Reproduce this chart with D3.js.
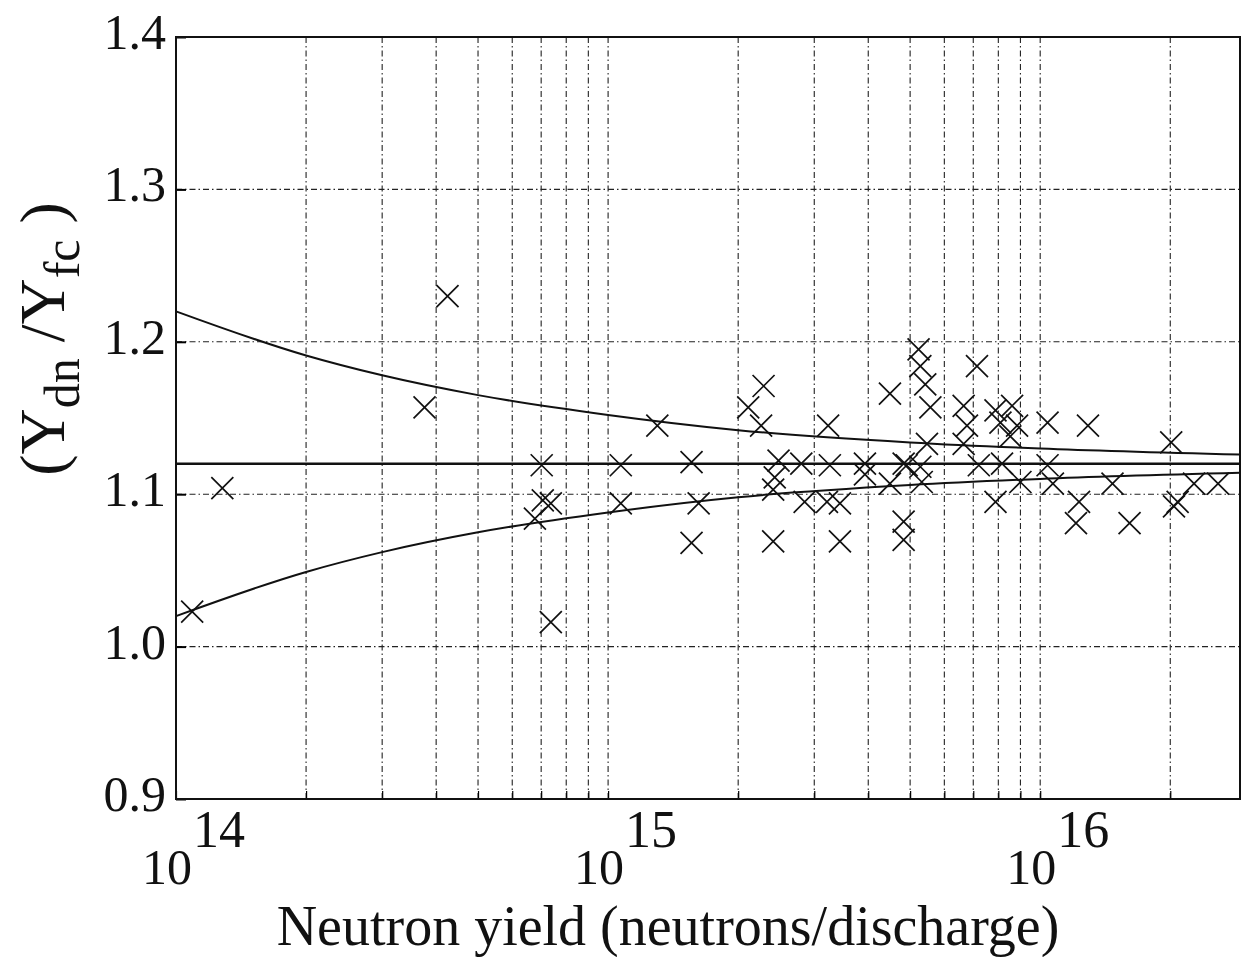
<!DOCTYPE html>
<html>
<head>
<meta charset="utf-8">
<script src="https://cdn.jsdelivr.net/npm/d3@7"></script>
<style>
  body { margin: 0; background: #fff; }
  text { font-family: "Liberation Serif", "DejaVu Serif", serif; fill: #111; }
</style>
</head>
<body>
<div id="chart"></div>
<script>
// measured points: neutron yield and ratio Ydn/Yfc
var yieldValues = [
  1.09e14, 1.28e14, 3.76e14, 4.25e14, 6.77e14, 7.06e14, 7.37e14, 7.02e14, 7.37e14,
  1.07e15, 1.07e15, 1.30e15, 1.56e15, 1.62e15, 1.56e15, 2.11e15, 2.29e15, 2.26e15,
  2.43e15, 2.41e15, 2.41e15, 2.48e15, 2.80e15, 3.26e15, 3.93e15, 2.85e15, 3.21e15,
  3.44e15, 3.23e15, 3.44e15, 3.93e15, 4.49e15, 4.49e15, 4.83e15, 4.83e15, 4.83e15,
  5.23e15, 5.28e15, 5.42e15, 5.57e15, 5.47e15, 5.28e15, 5.32e15, 4.91e15,
  7.14e15, 6.65e15, 6.77e15, 6.65e15, 7.21e15, 7.88e15, 8.61e15, 8.09e15, 8.84e15,
  8.53e15, 8.16e15, 9.00e15, 7.88e15, 1.04e16, 1.29e16, 1.04e16, 1.07e16, 1.47e16,
  1.23e16, 1.21e16, 1.61e16, 2.01e16, 2.08e16, 2.04e16, 2.27e16, 2.58e16
];
var ratioValues = [
  1.023, 1.104, 1.157, 1.230, 1.084, 1.096, 1.094, 1.119, 1.016,
  1.119, 1.094, 1.145, 1.121, 1.094, 1.068, 1.157, 1.171, 1.145,
  1.111, 1.103, 1.069, 1.122, 1.120, 1.119, 1.120, 1.095, 1.095,
  1.094, 1.145, 1.069, 1.113, 1.107, 1.166, 1.120, 1.082, 1.070,
  1.195, 1.184, 1.172, 1.157, 1.133, 1.118, 1.108, 1.119,
  1.184, 1.158, 1.145, 1.133, 1.119, 1.155, 1.158, 1.147, 1.145,
  1.138, 1.120, 1.108, 1.095, 1.147, 1.145, 1.119, 1.107, 1.107,
  1.095, 1.081, 1.081, 1.134, 1.095, 1.092, 1.107, 1.107
];

// mean line and error band
var meanRatio = 1.12;
var bandYield = [1e14, 2e14, 3e14, 5e14, 1e15, 2e15, 5e15, 1e16, 2.9e16];
var upperBand = [1.220, 1.191, 1.178, 1.165, 1.152, 1.142, 1.134, 1.130, 1.126];
var lowerBand = [1.020, 1.049, 1.062, 1.075, 1.088, 1.098, 1.106, 1.110, 1.114];

var yTicks = [0.9, 1.0, 1.1, 1.2, 1.3, 1.4];
var xMajor = [1e14, 1e15, 1e16];

const width = 1244;
const height = 957;
var plotLeft = 176, plotRight = 1240, plotTop = 37, plotBottom = 799;

var svg = d3.select("#chart")
    .append("svg")
    .attr("width", width)
    .attr("height", height);

var x = d3.scaleLog().domain([1e14, 2.9e16]).range([plotLeft, plotRight]);
var y = d3.scaleLinear().domain([0.9, 1.4]).range([plotBottom, plotTop]);

// grid
var grid = svg.append("g")
    .attr("stroke", "#222")
    .attr("stroke-width", 1.1)
    .attr("stroke-dasharray", "6,3,1.5,3");

grid.selectAll("line.v")
    .data(x.ticks().filter(function(d){ return d > 1e14 * 1.01 && d < 2.9e16; }))
    .enter().append("line")
    .attr("x1", function(d){ return x(d); })
    .attr("x2", function(d){ return x(d); })
    .attr("y1", plotTop).attr("y2", plotBottom);

grid.selectAll("line.h")
    .data(yTicks.slice(1, -1))
    .enter().append("line")
    .attr("y1", function(d){ return y(d); })
    .attr("y2", function(d){ return y(d); })
    .attr("x1", plotLeft).attr("x2", plotRight);

// small inward ticks
svg.append("g").attr("transform", "translate(" + plotLeft + ",0)")
    .call(d3.axisRight(y).tickValues(yTicks).tickSize(10).tickFormat(""))
    .call(function(g){ g.select(".domain").remove(); g.selectAll("line").attr("stroke-width", 2); });
svg.append("g").attr("transform", "translate(0," + plotBottom + ")")
    .call(d3.axisTop(x).tickSize(8).tickFormat(""))
    .call(function(g){ g.select(".domain").remove(); g.selectAll("line").attr("stroke-width", 1.2); });

// band and mean
var line = d3.line()
    .x(function(d){ return x(d[0]); })
    .y(function(d){ return y(d[1]); })
    .curve(d3.curveMonotoneX);

svg.append("path")
    .attr("d", line(d3.zip(bandYield, upperBand)))
    .attr("fill", "none").attr("stroke", "#111").attr("stroke-width", 2);
svg.append("path")
    .attr("d", line(d3.zip(bandYield, lowerBand)))
    .attr("fill", "none").attr("stroke", "#111").attr("stroke-width", 2);
svg.append("line")
    .attr("x1", plotLeft).attr("x2", plotRight)
    .attr("y1", y(meanRatio)).attr("y2", y(meanRatio))
    .attr("stroke", "#111").attr("stroke-width", 2.5);

// points as x marks
var s = 11;
svg.append("g").selectAll("path")
    .data(d3.zip(yieldValues, ratioValues))
    .enter().append("path")
    .attr("d", function(d){
        var px = x(d[0]), py = y(d[1]);
        return "M" + (px - s) + "," + (py - s) + "L" + (px + s) + "," + (py + s) +
               "M" + (px - s) + "," + (py + s) + "L" + (px + s) + "," + (py - s);
    })
    .attr("stroke", "#111").attr("stroke-width", 1.7).attr("fill", "none");

// frame
svg.append("rect")
    .attr("x", plotLeft).attr("y", plotTop)
    .attr("width", plotRight - plotLeft).attr("height", plotBottom - plotTop)
    .attr("fill", "none").attr("stroke", "#111").attr("stroke-width", 2);

// y tick labels
svg.append("g").selectAll("text")
    .data(yTicks)
    .enter().append("text")
    .attr("x", 166)
    .attr("y", function(d){ return y(d) + 12; })
    .attr("text-anchor", "end")
    .attr("font-size", 50)
    .text(function(d){ return d.toFixed(1); });

// x tick labels 10^n
svg.append("g").selectAll("text")
    .data(xMajor)
    .enter().append("text")
    .attr("font-size", 50)
    .attr("x", function(d){ return x(d) + 16; })
    .attr("y", 884)
    .attr("text-anchor", "end")
    .text("10");
svg.append("g").selectAll("text")
    .data(xMajor)
    .enter().append("text")
    .attr("font-size", 52)
    .attr("x", function(d){ return x(d) + 17; })
    .attr("y", 847)
    .text(function(d){ return Math.round(Math.log10(d)); });

// axis titles
svg.append("text")
    .attr("x", 668).attr("y", 945)
    .attr("text-anchor", "middle")
    .attr("font-size", 56)
    .text("Neutron yield (neutrons/discharge)");

var yt = svg.append("text")
    .attr("transform", "translate(64,339) rotate(-90)")
    .attr("text-anchor", "middle")
    .attr("font-size", 64);
yt.append("tspan").text("(Y");
yt.append("tspan").attr("font-size", 50).attr("dy", 15).text("dn");
yt.append("tspan").attr("dy", -15).text(" /Y");
yt.append("tspan").attr("font-size", 50).attr("dy", 15).text("fc");
yt.append("tspan").attr("dy", -15).text(" )");
</script>
</body>
</html>
